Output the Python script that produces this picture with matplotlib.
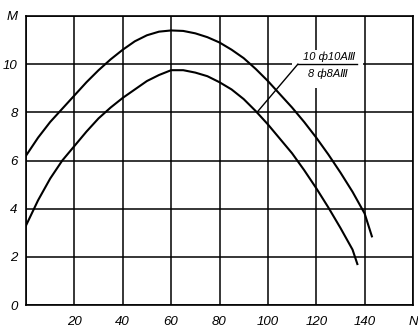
import matplotlib
matplotlib.use("Agg")
import matplotlib.pyplot as plt
from matplotlib.patches import Rectangle

# data
n_upper = [0, 5, 10, 15, 20, 25, 30, 35, 40, 45, 50, 55, 60, 65, 70, 75, 80, 85, 90, 95,
           100, 105, 110, 115, 120, 125, 130, 135, 140, 143]
m_upper = [6.2, 6.95, 7.6, 8.15, 8.7, 9.25, 9.75, 10.2, 10.6, 10.95, 11.2, 11.35, 11.4, 11.38,
           11.28, 11.12, 10.9, 10.6, 10.25, 9.8, 9.3, 8.75, 8.2, 7.6, 6.95, 6.25, 5.5, 4.7, 3.8, 2.85]

n_lower = [0, 5, 10, 15, 20, 25, 30, 35, 40, 45, 50, 55, 60, 65, 70, 75, 80, 85, 90, 95,
           100, 105, 110, 115, 120, 125, 130, 135, 137]
m_lower = [3.3, 4.35, 5.25, 6.0, 6.6, 7.2, 7.75, 8.2, 8.6, 8.95, 9.3, 9.55, 9.75, 9.75, 9.65,
           9.5, 9.25, 8.95, 8.55, 8.05, 7.5, 6.9, 6.3, 5.6, 4.85, 4.05, 3.2, 2.3, 1.7]

x_ticks = [0, 20, 40, 60, 80, 100, 120, 140, 160]
x_labels = ["", "20", "40", "60", "80", "100", "120", "140", "N"]
y_ticks = [0, 2, 4, 6, 8, 10, 12]
y_labels = ["0", "2", "4", "6", "8", "10", "M"]

label_upper = "10 ф10AⅢ"
label_lower = "8 ф8AⅢ"

fig = plt.figure(figsize=(4.18, 3.30), dpi=100)
ax = fig.add_axes([26 / 418, 25 / 330, (413 - 26) / 418, (305 - 16) / 330])
ax.set_xlim(0, 160)
ax.set_ylim(0, 12)

font = dict(family=["Liberation Sans", "DejaVu Sans"], style="italic", size=9.5)

ax.set_xticks(x_ticks)
ax.set_xticklabels(x_labels, **font)
ax.set_yticks(y_ticks)
ax.set_yticklabels(y_labels, **font)
ax.tick_params(length=0, pad=6)
ax.tick_params(axis="x", pad=8)

ax.grid(True, color="black", linewidth=1.1, zorder=1)
ax.set_axisbelow(True)
for s in ax.spines.values():
    s.set_linewidth(1.2)
    s.set_zorder(1)

# white box behind label
ax.add_patch(Rectangle((110, 9.0), 29.2, 1.6, facecolor="white", edgecolor="none", zorder=2))

ax.plot(n_upper, m_upper, color="black", linewidth=1.5, zorder=3)
ax.plot(n_lower, m_lower, color="black", linewidth=1.5, zorder=3)

# label with separator and leader
ax.plot([112.4, 136.8], [10, 10], color="black", linewidth=1.0, zorder=3)
ax.plot([112.4, 95.5], [10, 8.0], color="black", linewidth=1.0, zorder=3)
lfont = dict(family=["Liberation Sans", "DejaVu Sans"], style="italic", size=8)
ax.text(125.3, 10.32, label_upper, ha="center", va="center", zorder=4, **lfont)
ax.text(124.8, 9.62, label_lower, ha="center", va="center", zorder=4, **lfont)

fig.savefig("out.png", dpi=100)
